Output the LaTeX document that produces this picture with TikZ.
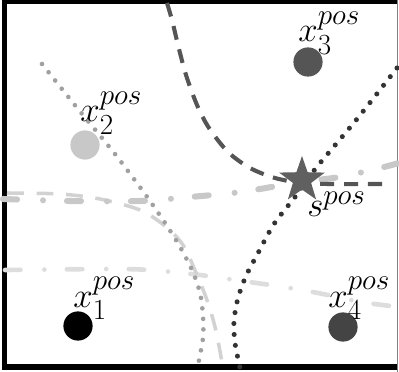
\documentclass[tikz,border=0pt]{standalone}
\usepackage{amsmath}
\usepackage{tikz}
\usetikzlibrary{positioning, shapes.geometric, arrows.meta}

\definecolor{darkpt}{HTML}{444444}
\definecolor{midpt}{HTML}{555555}
\definecolor{lightpt}{HTML}{C8C8C8}
\definecolor{starcol}{HTML}{606060}
\definecolor{dotcol}{HTML}{333333}
\definecolor{grainA}{HTML}{D2D2D2}
\definecolor{grainB}{HTML}{DDDDDD}
\definecolor{hatchcol}{HTML}{A0A0A0}

\begin{document}
\begin{tikzpicture}[x=0.025cm, y=-0.025cm,
    pt/.style = {circle, inner sep=0pt, minimum size=0.73cm},
    lbl/.style = {anchor=base west, inner sep=0pt, font=\fontsize{29}{33}\selectfont},
    hyp/.style = {line cap=round, smooth}]
            \useasboundingbox (0,0) rectangle (399,372);
            % frame
            \draw [line width=3.6pt] (397,1.5) -- (4.5,1.5) -- (4.5,367) -- (397,367);
            \draw [gray, line width=1pt] (397.5,0) -- (397.5,372);
            % grainy branches
            \draw [grainB, line width=3.3pt, line cap=round, dash pattern=on 11pt off 17pt on 0pt off 16pt]
                plot [smooth] coordinates {(5,270) (107,269) (150,270) (200,275) (235,280) (277,286) (318,293) (361,302) (399,307)};
            \draw [grainA, line width=2.5pt, dash pattern=on 12pt off 9pt]
                plot [smooth] coordinates {(7,193) (60,194) (100,199) (140,210) (165,226) (183,245) (197,275) (208,303) (216,331) (223,368)};
            \draw [hatchcol, line width=3.3pt, line cap=round, dash pattern=on 0pt off 7.5pt]
                plot [smooth] coordinates {(42,64) (78,109) (115,154) (150,201) (176,240) (192,270) (200,293) (203,316) (203,338) (198,365)};
            % main branches
            \draw [lightpt, line width=4.3pt, line cap=round, dash pattern=on 10pt off 18.5pt on 0pt off 17pt]
                plot [smooth] coordinates {(3,199) (70,201) (140,201) (190,197) (233,193) (260,189) (300,182) (340,177) (380,168) (399,163)};
            \draw [midpt, line width=2.9pt, dash pattern=on 10pt off 7pt]
                plot [smooth] coordinates {(167,3) (172,20) (178,45) (186,75) (197,105) (209,128) (228,152) (250,168) (275,178) (302,183) (330,184) (385,184)};
            \draw [dotcol, line width=3.6pt, line cap=round, dash pattern=on 0pt off 7.8pt]
                plot [smooth] coordinates {(397,68) (357,119) (316,168) (295,197) (274,224) (257,255) (246,276) (238,298) (234,321) (235,343) (240,368)};
            % points
            \node (x1) [pt, fill=black] at (78,326) {};
            \node (x2) [pt, fill=lightpt] at (85,145) {};
            \node (x3) [pt, fill=midpt] at (308,62) {};
            \node (x4) [pt, fill=darkpt] at (343,327) {};
            \node (s) [star, star points=5, star point ratio=2.5, minimum size=1.2cm, inner sep=0pt, fill=starcol] at (302,180) {};
            % labels
            \node (lx1) [lbl] at (73,307) {$x_1^{pos}$};
            \node (lx2) [lbl] at (80,122) {$x_2^{pos}$};
            \node (lx3) [lbl] at (298,42) {$x_3^{pos}$};
            \node (lx4) [lbl] at (328,307) {$x_4^{pos}$};
            \node (ls) [lbl] at (307,217) {$s^{pos}$};
        \end{tikzpicture}
\end{document}
